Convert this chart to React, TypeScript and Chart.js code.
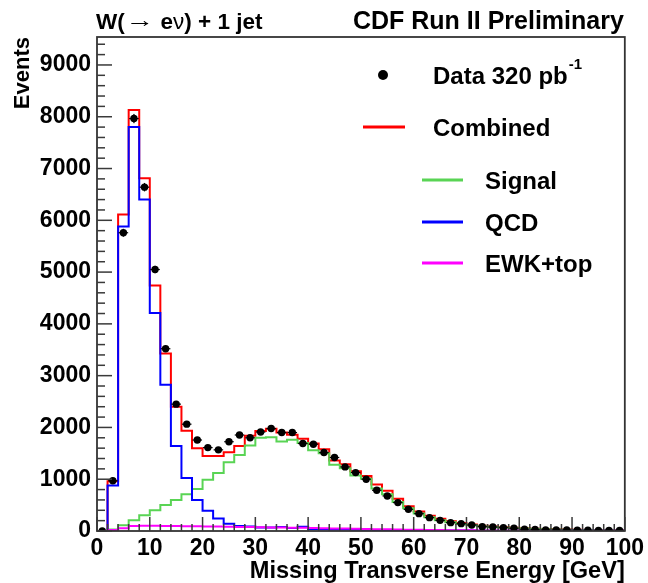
import React, { useEffect, useRef } from 'react';
import { Chart, registerables } from 'chart.js';

Chart.register(...registerables);

// ---- data (2 GeV bins from 0 to 100 GeV) ----
const binLowEdges = [0, 2, 4, 6, 8, 10, 12, 14, 16, 18, 20, 22, 24, 26, 28, 30, 32, 34, 36, 38, 40, 42, 44, 46, 48, 50, 52, 54, 56, 58, 60, 62, 64, 66, 68, 70, 72, 74, 76, 78, 80, 82, 84, 86, 88, 90, 92, 94, 96, 98];
const binCenters = [1, 3, 5, 7, 9, 11, 13, 15, 17, 19, 21, 23, 25, 27, 29, 31, 33, 35, 37, 39, 41, 43, 45, 47, 49, 51, 53, 55, 57, 59, 61, 63, 65, 67, 69, 71, 73, 75, 77, 79, 81, 83, 85, 87, 89, 91, 93, 95, 97, 99];
const X_MAX = 100;
const Y_MAX = 9540;

const dataEvents = [0, 970, 5760, 7965, 6640, 5050, 3520, 2450, 2063, 1757, 1611, 1567, 1724, 1854, 1800, 1911, 1979, 1901, 1901, 1689, 1676, 1515, 1420, 1238, 1128, 1000, 787, 677, 548, 419, 335, 258, 206, 161, 142, 116, 84, 77, 64, 52, 35, 28, 22, 20, 18, 16, 14, 12, 11, 10];
const combined = [0, 960, 6110, 8130, 6810, 4740, 3430, 2400, 1935, 1600, 1450, 1450, 1520, 1640, 1840, 1930, 1975, 1900, 1860, 1780, 1690, 1580, 1360, 1290, 1155, 1060, 900, 775, 625, 480, 375, 295, 235, 190, 155, 125, 100, 88, 75, 62, 52, 44, 38, 32, 28, 24, 20, 18, 16, 14];
const signal = [0, 30, 110, 210, 305, 400, 500, 600, 710, 810, 990, 1120, 1330, 1470, 1650, 1800, 1810, 1730, 1760, 1700, 1560, 1500, 1280, 1210, 1070, 1010, 820, 710, 560, 440, 340, 265, 210, 170, 135, 110, 90, 78, 66, 55, 46, 39, 33, 28, 24, 21, 18, 16, 14, 12];
const qcd = [0, 880, 5880, 7800, 6400, 4210, 2824, 1640, 1025, 600, 390, 240, 142, 95, 85, 70, 70, 75, 60, 80, 40, 35, 30, 28, 25, 22, 20, 18, 16, 14, 12, 11, 10, 9, 8, 8, 7, 7, 6, 6, 5, 5, 5, 4, 4, 4, 3, 3, 3, 3];
const ewkTop = [0, 20, 55, 95, 100, 100, 98, 95, 92, 90, 88, 85, 80, 78, 75, 72, 70, 68, 65, 62, 58, 55, 50, 46, 42, 38, 35, 32, 28, 25, 22, 20, 18, 16, 14, 13, 12, 11, 10, 9, 8, 8, 7, 7, 6, 6, 5, 5, 5, 4];

const xTickValues = [0, 10, 20, 30, 40, 50, 60, 70, 80, 90, 100];
const yTickValues = [0, 1000, 2000, 3000, 4000, 5000, 6000, 7000, 8000, 9000];
const xMinorTicks = [2, 4, 6, 8, 12, 14, 16, 18, 22, 24, 26, 28, 32, 34, 36, 38, 42, 44, 46, 48, 52, 54, 56, 58, 62, 64, 66, 68, 72, 74, 76, 78, 82, 84, 86, 88, 92, 94, 96, 98];
const yMinorTicks = [200, 400, 600, 800, 1200, 1400, 1600, 1800, 2200, 2400, 2600, 2800, 3200, 3400, 3600, 3800, 4200, 4400, 4600, 4800, 5200, 5400, 5600, 5800, 6200, 6400, 6600, 6800, 7200, 7400, 7600, 7800, 8200, 8400, 8600, 8800, 9200, 9400];

const FONT = "'Liberation Sans', Arial, Helvetica, sans-serif";

const histPoints = (vals: number[]) => {
  const pts = binLowEdges.map((x, i) => ({ x, y: vals[i] }));
  pts.push({ x: X_MAX, y: vals[vals.length - 1] });
  return pts;
};

const histDataset = (label: string, vals: number[], color: string, order: number) => ({
  type: 'line' as const,
  label,
  data: histPoints(vals),
  borderColor: color,
  backgroundColor: color,
  borderWidth: 2,
  pointRadius: 0,
  stepped: true,
  fill: false,
  tension: 0,
  order,
});

const rootPlugin = {
  id: 'rootStyle',
  afterDatasetsDraw(chart: any) {
    const { ctx, scales } = chart;
    const xs = scales.x;
    const ys = scales.y;
    ctx.save();
    ctx.fillStyle = '#000';
    binCenters.forEach((c, i) => {
      const v = dataEvents[i];
      const px = xs.getPixelForValue(c);
      const py = ys.getPixelForValue(v);
      const e = Math.sqrt(v);
      const x0 = xs.getPixelForValue(c - 0.9);
      const x1 = xs.getPixelForValue(c + 0.9);
      ctx.fillRect(x0, py - 0.6, x1 - x0, 1.2);
      const y0 = ys.getPixelForValue(v + e);
      const y1 = ys.getPixelForValue(Math.max(0, v - e));
      ctx.fillRect(px - 0.6, y0, 1.2, y1 - y0);
    });
    ctx.restore();
  },
  afterDraw(chart: any) {
    const { ctx, chartArea, scales } = chart;
    const a = chartArea;
    const xs = scales.x;
    const ys = scales.y;
    ctx.save();
    // frame
    ctx.strokeStyle = '#333';
    ctx.lineWidth = 1.8;
    ctx.strokeRect(a.left, a.top, a.right - a.left, a.bottom - a.top);

    // inner ticks (ROOT style)
    ctx.fillStyle = '#3a3a3a';
    const xTick = (v: number, len: number) => {
      const px = xs.getPixelForValue(v);
      ctx.fillRect(px - 0.75, a.bottom - len, 1.5, len);
    };
    const yTick = (v: number, len: number) => {
      const py = ys.getPixelForValue(v);
      ctx.fillRect(a.left, py - 0.75, len, 1.5);
    };
    xTickValues.forEach((v) => xTick(v, 14));
    xMinorTicks.forEach((v) => xTick(v, 7));
    yTickValues.forEach((v) => yTick(v, 15));
    yMinorTicks.forEach((v) => yTick(v, 8));

    // titles on top
    ctx.fillStyle = '#000';
    ctx.textBaseline = 'alphabetic';
    const ty = a.top - 8;
    let tx = a.left - 1;
    ctx.textAlign = 'left';
    const put = (t: string, font: string, sx = 1, dy = 0) => {
      ctx.font = font;
      const w = ctx.measureText(t).width;
      ctx.save();
      ctx.translate(tx, ty + dy);
      ctx.scale(sx, 1);
      ctx.fillText(t, 0, 0);
      ctx.restore();
      tx += w * sx;
    };
    put('W(', `bold 22.5px ${FONT}`);
    tx += 1;
    put('\u2192', `normal 22px ${FONT}`, 1.3, -2);
    put(' e', `bold 22.5px ${FONT}`);
    put('\u03BD', `normal 22.5px ${FONT}`);
    put(') + 1 jet', `bold 22.5px ${FONT}`);
    ctx.font = `bold 25px ${FONT}`;
    ctx.textAlign = 'right';
    ctx.fillText('CDF Run II Preliminary', a.right - 1, ty);

    // legend
    const ds = chart.data.datasets;
    ctx.textAlign = 'left';
    ctx.textBaseline = 'middle';
    ctx.font = `bold 24px ${FONT}`;
    ctx.fillStyle = '#000';
    ctx.beginPath();
    ctx.arc(a.left + 286, a.top + 38, 5, 0, Math.PI * 2);
    ctx.fill();
    const dataLabel = ds[0].label;
    ctx.fillText(dataLabel, a.left + 336, a.top + 40);
    const dw = ctx.measureText(dataLabel).width;
    ctx.font = `bold 15px ${FONT}`;
    ctx.fillText('-1', a.left + 336 + dw + 1, a.top + 28);

    const entries = [
      { idx: 1, x0: 266, x1: 308, tx: 336, y: 90 },
      { idx: 2, x0: 325, x1: 366, tx: 388, y: 143 },
      { idx: 3, x0: 325, x1: 366, tx: 388, y: 185 },
      { idx: 4, x0: 325, x1: 366, tx: 388, y: 226 },
    ];
    entries.forEach((e) => {
      const d = ds[e.idx];
      ctx.fillStyle = d.borderColor;
      ctx.fillRect(a.left + e.x0, a.top + e.y - 1.5, e.x1 - e.x0, 3);
      ctx.fillStyle = '#000';
      ctx.font = `bold 24px ${FONT}`;
      ctx.fillText(d.label, a.left + e.tx, a.top + e.y + 2);
    });
    ctx.restore();
  },
};

export default function App() {
  const ref = useRef<HTMLCanvasElement | null>(null);
  useEffect(() => {
    document.body.style.margin = '0';
    const canvas = ref.current;
    if (!canvas) return;
    const chart = new Chart(canvas, {
      type: 'line',
      data: {
        datasets: [
          {
            type: 'scatter' as const,
            label: 'Data 320 pb',
            data: binCenters.map((x, i) => ({ x, y: dataEvents[i] })),
            pointRadius: 3.7,
            pointBackgroundColor: '#000',
            pointBorderWidth: 0,
            showLine: false,
            order: 0,
          } as any,
          histDataset('Combined', combined, '#ff0000', 4),
          histDataset('Signal', signal, '#59d454', 3),
          histDataset('QCD', qcd, '#0000ff', 2),
          histDataset('EWK+top', ewkTop, '#ff00ff', 1),
        ],
      },
      options: {
        responsive: false,
        animation: false,
        events: [],
        layout: { padding: { left: 0, top: 37, right: 20, bottom: 0 } },
        plugins: {
          legend: { display: false },
          tooltip: { enabled: false },
          title: { display: false },
        },
        scales: {
          x: {
            type: 'linear',
            min: 0,
            max: X_MAX,
            grid: { display: false, drawTicks: false },
            border: { display: false },
            afterBuildTicks: (s: any) => {
              s.ticks = xTickValues.map((value) => ({ value }));
            },
            afterFit: (s: any) => {
              s.height = 52;
            },
            ticks: {
              autoSkip: false,
              maxRotation: 0,
              padding: 4,
              color: '#000',
              font: { family: FONT, size: 23, weight: 'bold' },
              callback: (v: any) => String(v),
            },
            title: {
              display: true,
              text: 'Missing Transverse Energy [GeV]',
              align: 'end',
              color: '#000',
              font: { family: FONT, size: 23.6, weight: 'bold', lineHeight: 1 },
              padding: { top: 0, bottom: 0 },
            },
          },
          y: {
            type: 'linear',
            min: 0,
            max: Y_MAX,
            grid: { display: false, drawTicks: false },
            border: { display: false },
            afterBuildTicks: (s: any) => {
              s.ticks = yTickValues.map((value) => ({ value }));
            },
            afterFit: (s: any) => {
              s.width = 97;
            },
            ticks: {
              autoSkip: false,
              padding: 6,
              color: '#000',
              font: { family: FONT, size: 23, weight: 'bold' },
              callback: (v: any) => String(v),
            },
            title: {
              display: true,
              text: 'Events',
              align: 'end',
              color: '#000',
              font: { family: FONT, size: 22, weight: 'bold', lineHeight: 1 },
              padding: { top: 12, bottom: 0 },
            },
          },
        },
      } as any,
      plugins: [rootPlugin],
    });
    return () => chart.destroy();
  }, []);
  return <canvas ref={ref} width={648} height={583} style={{ display: 'block' }} />;
}
